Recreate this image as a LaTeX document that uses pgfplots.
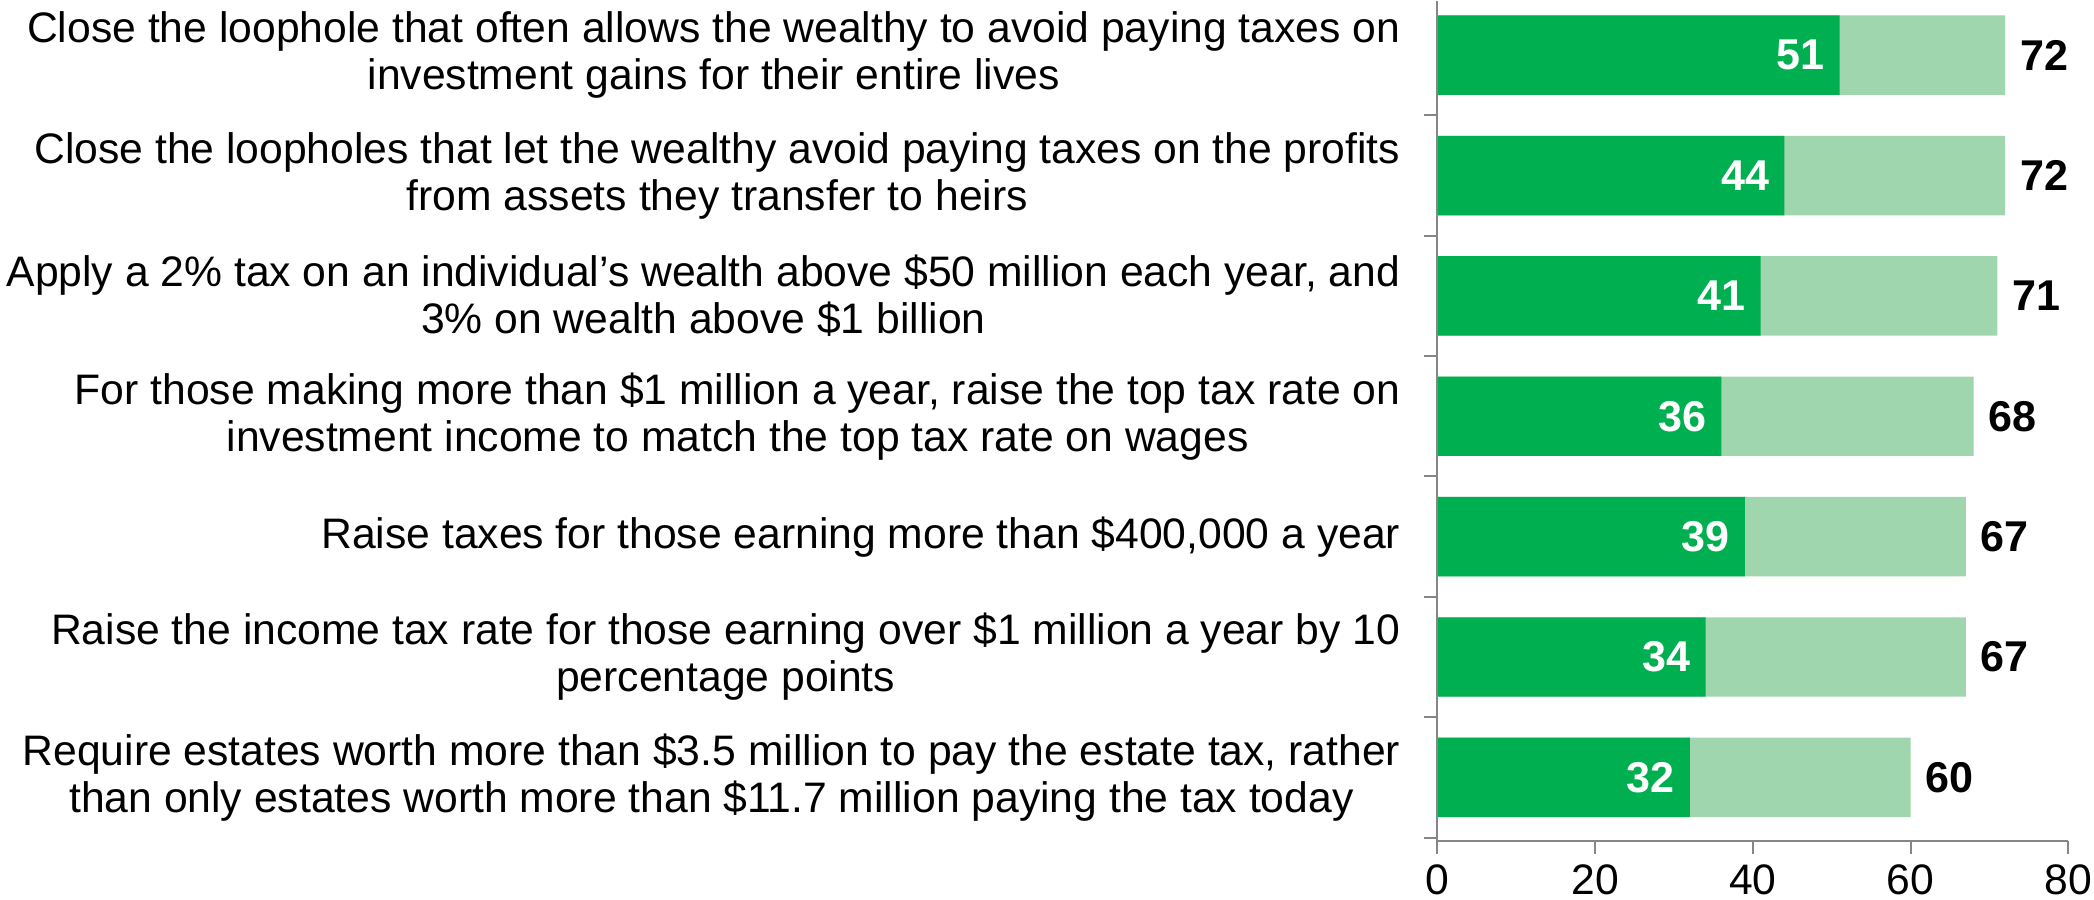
\documentclass[border=0pt]{standalone}
\usepackage{pgfplots}
\pgfplotsset{compat=1.18}
\usepackage{fontspec}
\setmainfont{Liberation Sans}
\definecolor{dkgreen}{HTML}{00B050}
\definecolor{ltgreen}{HTML}{A0D6AE}
\definecolor{axgray}{HTML}{868686}
\pgfplotstableread{
y dark total
0 51 72
1 44 72
2 41 71
3 36 68
4 39 67
5 34 67
6 32 60
}\datatab
\begin{document}
\begin{tikzpicture}
\begin{axis}[
  scale only axis, width=315pt, height=419.5pt,
  xmin=0, xmax=80, ymin=-0.45, ymax=6.53, y dir=reverse,
  axis x line*=bottom, axis y line*=left,
  axis line style={axgray, line width=1pt},
  tick style={axgray, line width=1pt},
  tick align=outside, major tick length=6.5pt,
  xtick={0,20,...,80},
  ytick={0.5,1.5,...,6.5}, yticklabels={},
  extra y ticks={0,1,2,3,4,5,6},
  extra y tick style={major tick length=0pt},
  extra y tick labels={
    {Close the loophole that often allows the wealthy to avoid paying taxes on\\investment gains for their entire lives},
    {Close the loopholes that let the wealthy avoid paying taxes on the profits\\from assets they transfer to heirs},
    {Apply a 2\% tax on an individual’s wealth above \$50 million each year, and\\3\% on wealth above \$1 billion},
    {For those making more than \$1 million a year, raise the top tax rate on\\investment income to match the top tax rate on wages},
    {Raise taxes for those earning more than \$400,000 a year},
    {Raise the income tax rate for those earning over \$1 million a year by 10\\percentage points},
    {Require estates worth more than \$3.5 million to pay the estate tax, rather\\than only estates worth more than \$11.7 million paying the tax today}},
  yticklabel style={align=center, font=\fontsize{21.3}{23.5}\selectfont, xshift=-15pt, inner ysep=0pt},
  xticklabel style={font=\fontsize{21.3}{24}\selectfont, inner xsep=1pt, inner ysep=2.5pt, yshift=-2.5pt},
  /pgf/number format/assume math mode=true,
  clip=false,
  bar width=0.66,
]
\addplot[xbar, bar shift=0pt, fill=ltgreen, draw=none,
  nodes near coords,
  every node near coord/.append style={anchor=west, xshift=4pt, font=\fontsize{21.5}{24}\selectfont\bfseries, text=black},
  /pgf/number format/assume math mode=true]
  table[x=total, y=y] {\datatab};
\addplot[xbar, bar shift=0pt, fill=dkgreen, draw=none,
  nodes near coords,
  every node near coord/.append style={anchor=east, xshift=-4pt, font=\fontsize{21.5}{24}\selectfont\bfseries, text=white},
  /pgf/number format/assume math mode=true]
  table[x=dark, y=y] {\datatab};
\end{axis}
\end{tikzpicture}
\end{document}
